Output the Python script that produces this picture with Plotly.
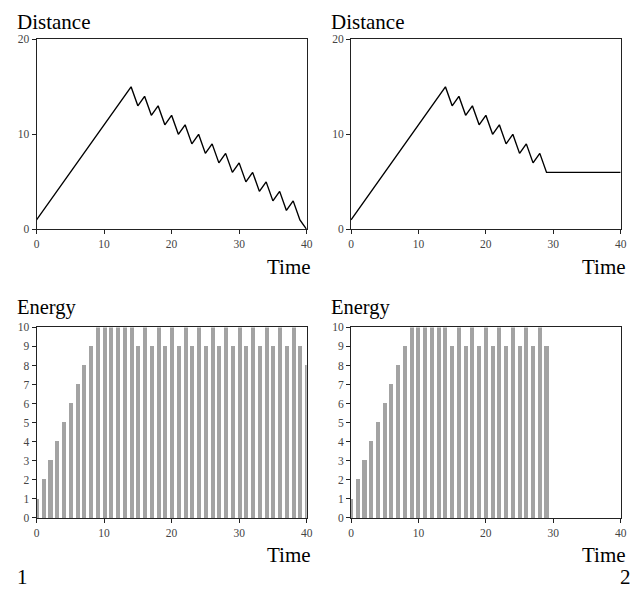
import plotly.graph_objects as go

# ---- data ----
time_1 = list(range(0, 41))
distance_1 = [1, 2, 3, 4, 5, 6, 7, 8, 9, 10, 11, 12, 13, 14, 15,
              13, 14, 12, 13, 11, 12, 10, 11, 9, 10, 8, 9, 7, 8, 6,
              7, 5, 6, 4, 5, 3, 4, 2, 3, 1, 0]
energy_1 = [1, 2, 3, 4, 5, 6, 7, 8, 9, 10, 10, 10, 10, 10, 10,
            9, 10, 9, 10, 9, 10, 9, 10, 9, 10, 9, 10, 9, 10, 9,
            10, 9, 10, 9, 10, 9, 10, 9, 10, 9, 8]

time_2 = list(range(0, 41))
distance_2 = [1, 2, 3, 4, 5, 6, 7, 8, 9, 10, 11, 12, 13, 14, 15,
              13, 14, 12, 13, 11, 12, 10, 11, 9, 10, 8, 9, 7, 8, 6,
              6, 6, 6, 6, 6, 6, 6, 6, 6, 6, 6]
energy_time_2 = list(range(0, 30))
energy_2 = [1, 2, 3, 4, 5, 6, 7, 8, 9, 10, 10, 10, 10, 10, 10,
            9, 10, 9, 10, 9, 10, 9, 10, 9, 10, 9, 10, 9, 10, 9]

x_ticks = [0, 10, 20, 30, 40]
dist_ticks = [0, 10, 20]
energy_ticks = list(range(0, 11))

# ---- layout geometry ----
W, H = 640, 595
FONT = "Liberation Serif"
LINE_COL = "#222222"
TICK_COL = "#444444"
BAR_COL = "#a3a3a3"

def px_x(a, b):
    return [a / W, b / W]

def px_y(top, bottom):
    return [(H - bottom) / H, (H - top) / H]

fig = go.Figure()

fig.add_trace(go.Scatter(x=time_1, y=distance_1, mode="lines",
                         line=dict(color="black", width=1.4),
                         xaxis="x", yaxis="y", showlegend=False))
fig.add_trace(go.Scatter(x=time_2, y=distance_2, mode="lines",
                         line=dict(color="black", width=1.4),
                         xaxis="x2", yaxis="y2", showlegend=False))
fig.add_trace(go.Bar(x=time_1, y=energy_1, width=0.6,
                     marker=dict(color=BAR_COL, line=dict(width=0)),
                     xaxis="x3", yaxis="y3", showlegend=False))
fig.add_trace(go.Bar(x=energy_time_2, y=energy_2, width=0.6,
                     marker=dict(color=BAR_COL, line=dict(width=0)),
                     xaxis="x4", yaxis="y4", showlegend=False))

def xaxis(domain, anchor):
    return dict(domain=domain, anchor=anchor, range=[0, 40],
                tickvals=x_ticks, ticks="outside", ticklen=4,
                tickcolor=LINE_COL, showline=True, linecolor=LINE_COL,
                linewidth=1, mirror=True, showgrid=False, zeroline=False,
                tickfont=dict(family=FONT, size=11.5, color=TICK_COL))

def yaxis(domain, anchor, rng, vals):
    return dict(domain=domain, anchor=anchor, range=rng,
                tickvals=vals, ticks="outside", ticklen=4,
                tickcolor=LINE_COL, showline=True, linecolor=LINE_COL,
                linewidth=1, mirror=True, showgrid=False, zeroline=False,
                tickfont=dict(family=FONT, size=11.5, color=TICK_COL))

left = px_x(34, 308)
right = px_x(353, 626.5)
top = px_y(34, 228)
bottom = px_y(328, 522.5)

fig.update_layout(
    width=W, height=H,
    margin=dict(l=0, r=0, t=0, b=0),
    paper_bgcolor="white", plot_bgcolor="white",
    font=dict(family=FONT, color="black"),
    xaxis=xaxis(left, "y"),
    yaxis=yaxis(top, "x", [0, 20], dist_ticks),
    xaxis2=xaxis(right, "y2"),
    yaxis2=yaxis(top, "x2", [0, 20], dist_ticks),
    xaxis3=xaxis(left, "y3"),
    yaxis3=yaxis(bottom, "x3", [0, 10], energy_ticks),
    xaxis4=xaxis(right, "y4"),
    yaxis4=yaxis(bottom, "x4", [0, 10], energy_ticks),
    bargap=0,
)

def label(text, x_px, y_px, xanchor="left", size=21):
    fig.add_annotation(text=text, xref="paper", yref="paper",
                       x=x_px / W, y=(H - y_px) / H,
                       xanchor=xanchor, yanchor="middle",
                       showarrow=False,
                       font=dict(family=FONT, size=size, color="black"))

label("Distance", 12, 16)
label("Distance", 331, 16)
label("Time", 314, 266, xanchor="right")
label("Time", 634, 266, xanchor="right")
label("Energy", 12, 307.5, size=20.5)
label("Energy", 331, 307.5, size=20.5)
label("Time", 314, 560, xanchor="right")
label("Time", 634, 560, xanchor="right")
label("1", 12, 583)
label("2", 639, 583, xanchor="right")

fig.write_html(
    "out.html",
    config={"displayModeBar": False},
    post_script="document.body.style.margin='0';document.body.style.overflow='hidden';",
)
